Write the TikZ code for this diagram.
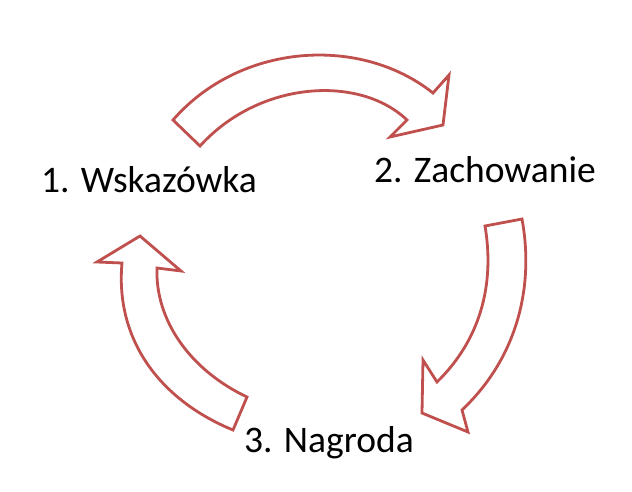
\documentclass[tikz,border=0pt]{standalone}
\usepackage{fontspec}
\setmainfont{Carlito}
\definecolor{arrowred}{RGB}{192,80,77}

\begin{document}
\begin{tikzpicture}[
    x=1pt, y=-1pt,
    every node/.style={font=\fontsize{37.5}{44}\selectfont, inner sep=0pt},
    label/.style={anchor=base west},
    blockarrow/.style={draw=arrowred, line width=2.8pt, fill=white, line join=miter}
]
\useasboundingbox (0,0) rectangle (632,491);

% --- etykiety ---
\node (cue) [label] at (41,192) {1. Wskazówka};
\node (behav) [label] at (374,182) {2. Zachowanie};
\node (reward) [label] at (244,452) {3. Nagroda};

% --- strzalki ---
\draw [blockarrow] (173,120) .. controls (240,43) and (360,35) .. (433,93)
    -- (449,75) -- (443,125) -- (390,137) -- (407,120)
    .. controls (360,75) and (260,80) .. (200,146) -- cycle;

\draw [blockarrow] (522,219) .. controls (535,290) and (515,360) .. (462,410)
    -- (468,432) -- (422,413) -- (423,360) -- (437,382)
    .. controls (480,340) and (495,285) .. (485,226) -- cycle;

\draw [blockarrow] (233,430) .. controls (160,400) and (115,340) .. (122,263)
    -- (97,262) -- (140,236) -- (181,271) -- (157,268)
    .. controls (155,320) and (190,370) .. (247,397) -- cycle;

\end{tikzpicture}
\end{document}
